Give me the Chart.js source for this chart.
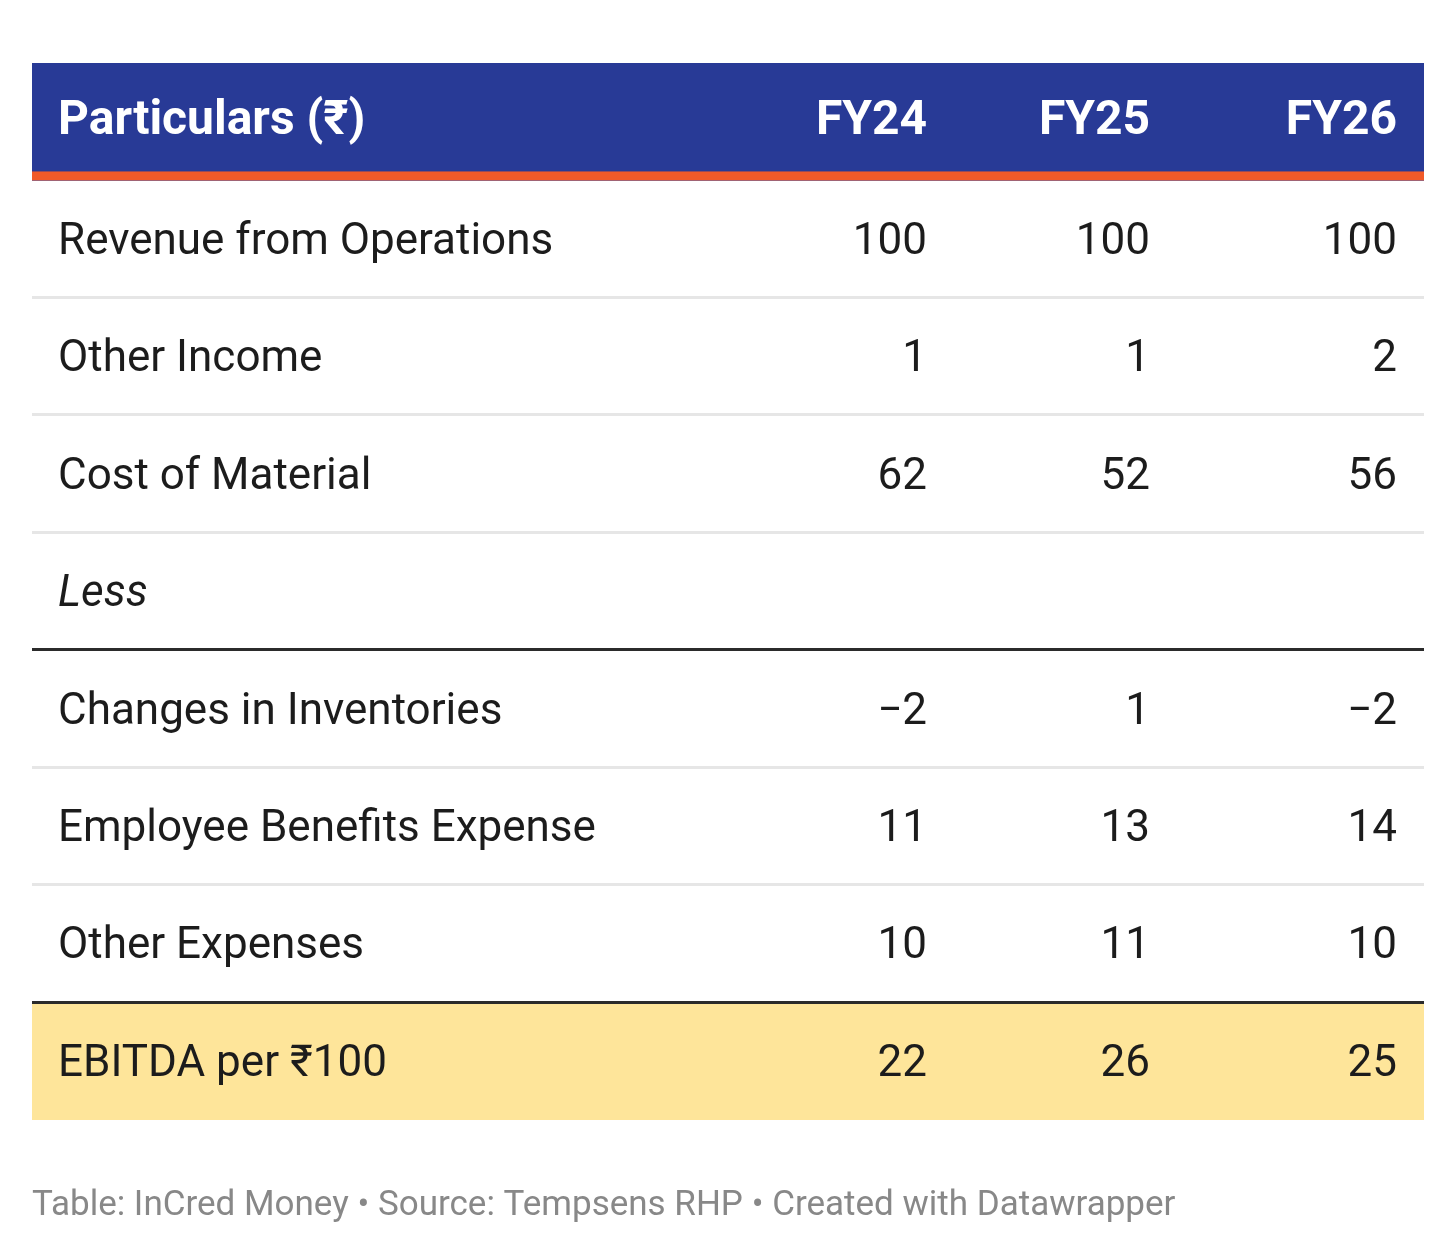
<!DOCTYPE html>
<html>
<head>
<meta charset="utf-8">
<script src="https://cdn.jsdelivr.net/npm/chart.js@4.4.1/dist/chart.umd.min.js"></script>
<style>
  html, body { margin: 0; padding: 0; background: #fff; }
  canvas { display: block; }
</style>
</head>
<body>
<canvas id="c" width="1456" height="1257"></canvas>
<script>
// 표 데이터 — 열 헤더, 행 라벨, 연도별 값
const columns = ['Particulars (₹)', 'FY24', 'FY25', 'FY26'];
const rowLabels = [
  'Revenue from Operations', 'Other Income', 'Cost of Material', 'Less',
  'Changes in Inventories', 'Employee Benefits Expense', 'Other Expenses', 'EBITDA per ₹100',
];
const fy24 = [100, 1, 62, null, -2, 11, 10, 22];
const fy25 = [100, 1, 52, null, 1, 13, 11, 26];
const fy26 = [100, 2, 56, null, -2, 14, 10, 25];
const footer = 'Table: InCred Money • Source: Tempsens RHP • Created with Datawrapper';

// 레이아웃/스타일 (데이터와 분리)
const BLUE = '#283a96';
const ORANGE = '#f15a29';
const YELLOW = '#fee59a';
const TEXT = '#1c1c1c';
const FONT = 'Roboto, "Noto Sans", sans-serif';
const HEAD_PX = 48;
const BODY_PX = 44;
const FOOT_PX = 35;
const labelX = 0.0187;                    // 첫 열 좌측 패딩 (x 스케일 0..1 기준)
const valueX = [0.643, 0.8032, 0.9806];   // 값 열 오른쪽 정렬 위치
const darkAfter = ['Less', 'Other Expenses'];

const cats = ['header', ...rowLabels];
const series = [fy24, fy25, fy26];
const fmt = (v) => (v == null ? '' : v < 0 ? `\u2212${Math.abs(v)}` : String(v));

// 헤더/합계 행 배경은 막대로 그림
const fillData = cats.map((c, i) => (i === 0 || i === cats.length - 1 ? [0, 1] : null));
const fillColors = cats.map((c, i) => (i === 0 ? BLUE : YELLOW));

const tablePlugin = {
  id: 'tableCells',
  afterDatasetsDraw(chart) {
    const { ctx, scales: { x, y }, chartArea } = chart;
    const band = y.getPixelForValue(1) - y.getPixelForValue(0);
    const left = chartArea.left, right = chartArea.right;
    ctx.save();

    // 헤더 아래 주황 줄
    const hBottom = y.getPixelForValue(0) + band / 2;
    ctx.fillStyle = ORANGE;
    ctx.fillRect(left, hBottom - 9, right - left, 9);

    // 행 구분선
    for (let i = 1; i < cats.length - 1; i++) {
      const yy = (y.getPixelForValue(i) + y.getPixelForValue(i + 1)) / 2;
      const dark = darkAfter.includes(cats[i]);
      ctx.fillStyle = dark ? '#2b2b2b' : '#e6e6e6';
      ctx.fillRect(left, Math.round(yy) - 2, right - left, 3);
    }

    // 헤더 텍스트
    const hc = y.getPixelForValue(0) - 4.5;
    const hBase = hc + HEAD_PX * 0.355;
    ctx.font = `bold ${HEAD_PX}px ${FONT}`;
    ctx.fillStyle = '#fff';
    ctx.textBaseline = 'alphabetic';
    ctx.textAlign = 'left';
    ctx.fillText(columns[0], x.getPixelForValue(labelX), hBase);
    ctx.textAlign = 'right';
    columns.slice(1).forEach((c, j) => ctx.fillText(c, x.getPixelForValue(valueX[j]), hBase));

    // 본문
    rowLabels.forEach((label, r) => {
      const cy = y.getPixelForValue(r + 1) - 1;
      const base = cy + BODY_PX * 0.355;
      ctx.fillStyle = TEXT;
      ctx.textAlign = 'left';
      ctx.font = `${label === 'Less' ? 'italic ' : ''}${BODY_PX}px ${FONT}`;
      ctx.fillText(label, x.getPixelForValue(labelX), base);
      ctx.font = `${BODY_PX}px ${FONT}`;
      ctx.textAlign = 'right';
      series.forEach((s, j) => ctx.fillText(fmt(s[r]), x.getPixelForValue(valueX[j]), base));
    });

    // 출처
    ctx.font = `${FOOT_PX}px ${FONT}`;
    ctx.fillStyle = '#888888';
    ctx.textAlign = 'left';
    ctx.fillText(footer, left, chartArea.bottom + 95);
    ctx.restore();
  },
};

new Chart(document.getElementById('c'), {
  type: 'bar',
  data: {
    labels: cats,
    datasets: [{ data: fillData, backgroundColor: fillColors, borderWidth: 0, barPercentage: 1, categoryPercentage: 1 }],
  },
  options: {
    indexAxis: 'y',
    responsive: false,
    animation: false,
    layout: { padding: { left: 32, right: 32, top: 63, bottom: 137 } },
    plugins: { legend: { display: false }, tooltip: { enabled: false } },
    scales: {
      x: { type: 'linear', min: 0, max: 1, display: false },
      y: { type: 'category', display: false },
    },
  },
  plugins: [tablePlugin],
});
</script>
</body>
</html>
